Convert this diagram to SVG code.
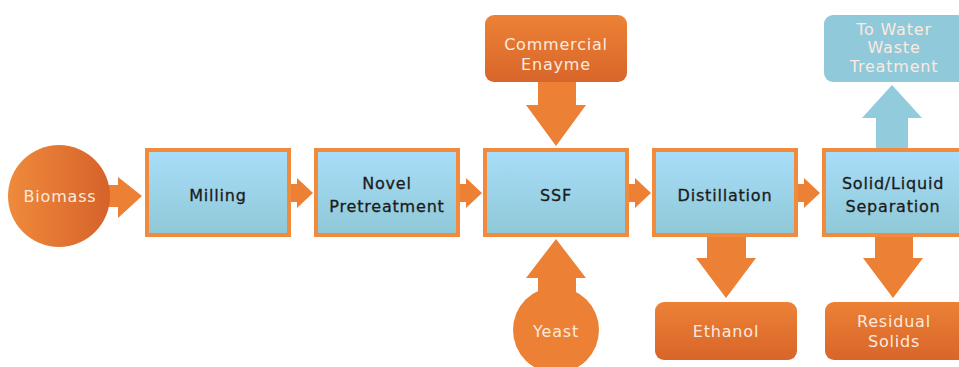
<svg xmlns="http://www.w3.org/2000/svg" width="959" height="367" viewBox="0 0 959 367">
<defs>
<linearGradient id="blue" x1="0" y1="0" x2="0" y2="1"><stop offset="0" stop-color="#a8defa"/><stop offset="1" stop-color="#8fc8d6"/></linearGradient>
<linearGradient id="org" x1="0" y1="0" x2="0" y2="1"><stop offset="0" stop-color="#ec8236"/><stop offset="1" stop-color="#d8652a"/></linearGradient>
<linearGradient id="orgh" x1="0" y1="0" x2="1" y2="0"><stop offset="0" stop-color="#ef8a3c"/><stop offset="1" stop-color="#d6622a"/></linearGradient>
<style>
.box{fill:url(#blue);stroke:#f08a3c;stroke-width:4}
.obox{fill:url(#org)}
.arr{fill:#ec8034}
.barr{fill:#92cbdc}
.t{font-family:"DejaVu Sans",Verdana,sans-serif;font-size:16px;text-anchor:middle;letter-spacing:0.8px}
.dk{fill:#1b1b1b;stroke:#1b1b1b;stroke-width:0.3}
.wt{fill:#fbeadf}
</style>
</defs>
<rect width="959" height="367" fill="#ffffff"/>
<g id="connectors">
<polygon class="arr" points="100,185 118,185 118,177 142,196 118,218 118,207 100,207"/>
<polygon class="arr" points="290,184 297,184 297,178 313,193 297,208 297,202 290,202"/>
<polygon class="arr" points="459,184 466,184 466,178 482,193 466,208 466,202 459,202"/>
<polygon class="arr" points="628,184 635,184 635,178 651,193 635,208 635,202 628,202"/>
<polygon class="arr" points="797,184 804,184 804,178 820,193 804,208 804,202 797,202"/>
<polygon class="arr" points="538,82 576,82 576,105 586,105 556,146 526,105 538,105"/>
<polygon class="arr" points="538,300 576,300 576,278 586,278 556,239 526,278 538,278"/>
<polygon class="arr" points="707,236 746,236 746,258 756,258 726,298 696,258 707,258"/>
<polygon class="arr" points="875,236 913,236 913,258 923,258 893,298 863,258 875,258"/>
<polygon class="barr" points="876,150 908,150 908,118 922,118 892,85 862,118 876,118"/>
</g>
<g id="biomass"><circle cx="59" cy="196" r="51" fill="url(#orgh)"/><text class="t wt" x="60" y="202">Biomass</text></g>
<g id="milling"><rect class="box" x="147" y="150" width="142" height="85"/><text class="t dk" x="218" y="201">Milling</text></g>
<g id="pretreatment"><rect class="box" x="316" y="150" width="142" height="85"/><text class="t dk" x="387" y="189">Novel</text><text class="t dk" x="387" y="212">Pretreatment</text></g>
<g id="ssf"><rect class="box" x="485" y="150" width="142" height="85"/><text class="t dk" x="556" y="201">SSF</text></g>
<g id="distillation"><rect class="box" x="654" y="150" width="142" height="85"/><text class="t dk" x="725" y="201">Distillation</text></g>
<g id="separation"><rect class="box" x="824" y="150" width="142" height="85"/><text class="t dk" x="893" y="189">Solid/Liquid</text><text class="t dk" x="893" y="212">Separation</text></g>
<g id="enzyme"><rect class="obox" x="485" y="15" width="142" height="67" rx="9"/><text class="t wt" x="556" y="50">Commercial</text><text class="t wt" x="556" y="70">Enayme</text></g>
<g id="yeast"><circle cx="556" cy="330" r="43" fill="#ec8034"/><text class="t wt" x="556" y="337">Yeast</text></g>
<g id="ethanol"><rect class="obox" x="655" y="302" width="142" height="58" rx="9"/><text class="t wt" x="726" y="337">Ethanol</text></g>
<g id="residual"><rect class="obox" x="825" y="302" width="142" height="58" rx="9"/><text class="t wt" x="894" y="327">Residual</text><text class="t wt" x="894" y="347">Solids</text></g>
<g id="water"><rect x="824" y="15" width="142" height="67" rx="9" fill="#90c9da"/><text class="t wt" x="894" y="35">To Water</text><text class="t wt" x="894" y="53">Waste</text><text class="t wt" x="894" y="72">Treatment</text></g>
</svg>
